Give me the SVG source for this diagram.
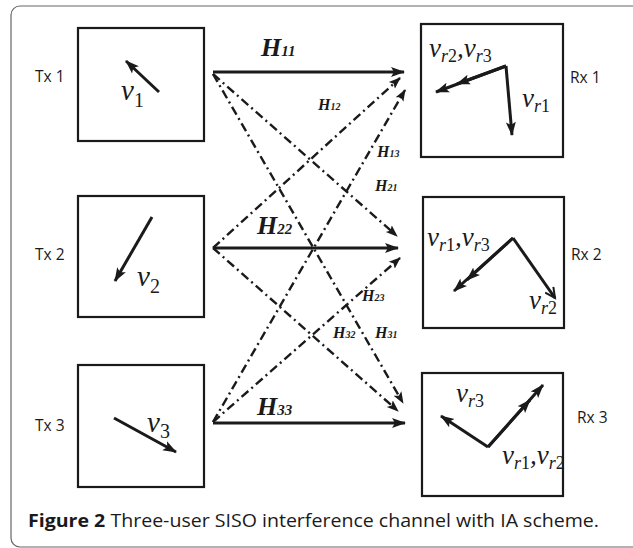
<svg xmlns="http://www.w3.org/2000/svg" width="633" height="548" viewBox="0 0 633 548">
<style>
.box{fill:none;stroke:#1a1a1a;stroke-width:2.2}
.lbl{font-family:"Open Sans","Liberation Sans",sans-serif;font-size:15.5px;fill:#1a1a1a}
.v{font-family:"Liberation Serif",serif;font-style:italic;font-size:29px;fill:#1a1a1a}
.vr{font-family:"Liberation Serif",serif;font-style:italic;font-size:27px;fill:#1a1a1a}
.si{font-style:italic;font-size:18px}
.su{font-style:normal;font-size:18px}
.sd{font-style:normal;font-size:20px}
.hb{font-family:"Liberation Serif",serif;font-style:italic;font-weight:bold;font-size:26px;fill:#1a1a1a}
.hs{font-family:"Liberation Serif",serif;font-style:italic;font-weight:bold;font-size:16px;fill:#1a1a1a}
.hbs{font-size:15px}
.hss{font-size:10px}
.arr{fill:none;stroke:#1a1a1a;stroke-width:3}
.dd{fill:none;stroke:#1a1a1a;stroke-width:2.4;stroke-dasharray:9 4 2 4}
.cap{font-family:"Open Sans","Liberation Sans",sans-serif;font-size:18px;fill:#1a1a1a}
</style>
<defs>
<marker id="ah" markerUnits="userSpaceOnUse" markerWidth="16" markerHeight="12" refX="13" refY="6" orient="auto">
<path d="M0,1 L14,6 L0,11 L3,6 Z" fill="#1a1a1a"/>
</marker>
<marker id="ahd" markerUnits="userSpaceOnUse" markerWidth="14" markerHeight="12" refX="11" refY="6" orient="auto">
<path d="M0,1.5 L12,6 L0,10.5 L2.5,6 Z" fill="#1a1a1a"/>
</marker>
<marker id="aho" markerUnits="userSpaceOnUse" markerWidth="14" markerHeight="12" refX="11" refY="6" orient="auto">
<path d="M1,1 L11,6 L1,11" fill="none" stroke="#1a1a1a" stroke-width="2"/>
</marker>
</defs>
<rect x="11" y="6" width="640" height="541" rx="9" fill="#fff" stroke="#666" stroke-width="1.2"/>

<g id="connectors">
<path class="arr" d="M213,72 L404,72" marker-end="url(#ah)"/>
<path class="arr" d="M213,248 L398,248" marker-end="url(#ah)"/>
<path class="arr" d="M213,423 L405,423" marker-end="url(#ah)"/>
<path class="dd" d="M213,74 L397,236" marker-end="url(#ahd)"/>
<path class="dd" d="M213,74 L403,403" marker-end="url(#ahd)"/>
<path class="dd" d="M213,248 L400,78" marker-end="url(#ahd)"/>
<path class="dd" d="M213,248 L398,411" marker-end="url(#ahd)"/>
<path class="dd" d="M213,422 L405,90" marker-end="url(#ahd)"/>
<path class="dd" d="M213,422 L400,258" marker-end="url(#ahd)"/>
<text class="hb" x="261" y="56">H<tspan class="hbs">11</tspan></text>
<text class="hs" x="318" y="110">H<tspan class="hss">12</tspan></text>
<text class="hs" x="377" y="157">H<tspan class="hss">13</tspan></text>
<text class="hs" x="375" y="191">H<tspan class="hss">21</tspan></text>
<text class="hb" x="257" y="234">H<tspan class="hbs">22</tspan></text>
<text class="hs" x="362" y="301">H<tspan class="hss">23</tspan></text>
<text class="hs" x="333" y="338">H<tspan class="hss">32</tspan></text>
<text class="hs" x="375" y="338">H<tspan class="hss">31</tspan></text>
<text class="hb" x="257" y="415">H<tspan class="hbs">33</tspan></text>
</g>

<g id="tx1">
<rect class="box" x="78" y="28" width="126" height="113"/>
<text class="lbl" x="35" y="82">Tx 1</text>
<path class="arr" d="M159,92 L126,61" marker-end="url(#ah)"/>
<text class="v" x="121" y="100">v<tspan class="sd" dy="7">1</tspan></text>
</g>
<g id="tx2">
<rect class="box" x="78" y="196" width="126" height="121"/>
<text class="lbl" x="35" y="260">Tx 2</text>
<path class="arr" d="M152,217 L115,281" marker-end="url(#ah)"/>
<text class="v" x="137" y="286">v<tspan class="sd" dy="7">2</tspan></text>
</g>
<g id="tx3">
<rect class="box" x="78" y="365" width="126" height="122"/>
<text class="lbl" x="35" y="431">Tx 3</text>
<path class="arr" d="M114,418 L176,452" marker-end="url(#ah)"/>
<text class="v" x="147" y="432">v<tspan class="sd" dy="6">3</tspan></text>
</g>

<g id="rx1">
<rect class="box" x="421" y="24" width="142" height="133"/>
<text class="lbl" x="570" y="83">Rx 1</text>
<path class="arr" d="M506,66 L436,92" marker-end="url(#ah)"/>
<path class="arr" d="M506,66 L457,84" marker-end="url(#ah)"/>
<path class="arr" d="M506,66 L512,135" marker-end="url(#ah)"/>
<text class="vr" x="429" y="57">v<tspan class="si" dy="5">r</tspan><tspan class="su">2</tspan><tspan dy="-5">,v</tspan><tspan class="si" dy="5">r</tspan><tspan class="su">3</tspan></text>
<text class="vr" x="522" y="107">v<tspan class="si" dy="5">r</tspan><tspan class="su">1</tspan></text>
</g>
<g id="rx2">
<rect class="box" x="423" y="197" width="141" height="131"/>
<text class="lbl" x="571" y="260">Rx 2</text>
<path class="arr" d="M513,238 L454,291" stroke-width="3.4" marker-end="url(#ah)"/>
<path class="arr" d="M513,238 L467,280" stroke-width="3.4" marker-end="url(#ah)"/>
<path class="arr" d="M513,238 L555,298" stroke-width="2" marker-end="url(#aho)"/>
<text class="vr" x="427" y="246">v<tspan class="si" dy="5">r</tspan><tspan class="su">1</tspan><tspan dy="-5">,v</tspan><tspan class="si" dy="5">r</tspan><tspan class="su">3</tspan></text>
<text class="vr" x="529" y="309">v<tspan class="si" dy="5">r</tspan><tspan class="su">2</tspan></text>
</g>
<g id="rx3">
<rect class="box" x="422" y="373" width="141" height="123"/>
<text class="lbl" x="577" y="423">Rx 3</text>
<path class="arr" d="M488,447 L441,416" marker-end="url(#ah)"/>
<path class="arr" d="M488,447 L543,385" marker-end="url(#ah)"/>
<path class="arr" d="M488,447 L530,400" marker-end="url(#ah)"/>
<text class="vr" x="456" y="402">v<tspan class="si" dy="5">r</tspan><tspan class="su">3</tspan></text>
<text class="vr" x="502" y="464">v<tspan class="si" dy="5">r</tspan><tspan class="su">1</tspan><tspan dy="-5">,v</tspan><tspan class="si" dy="5">r</tspan><tspan class="su">2</tspan></text>
</g>

<text class="cap" x="28" y="527" textLength="571" lengthAdjust="spacingAndGlyphs"><tspan font-weight="bold">Figure 2</tspan> Three-user SISO interference channel with IA scheme.</text>
</svg>
